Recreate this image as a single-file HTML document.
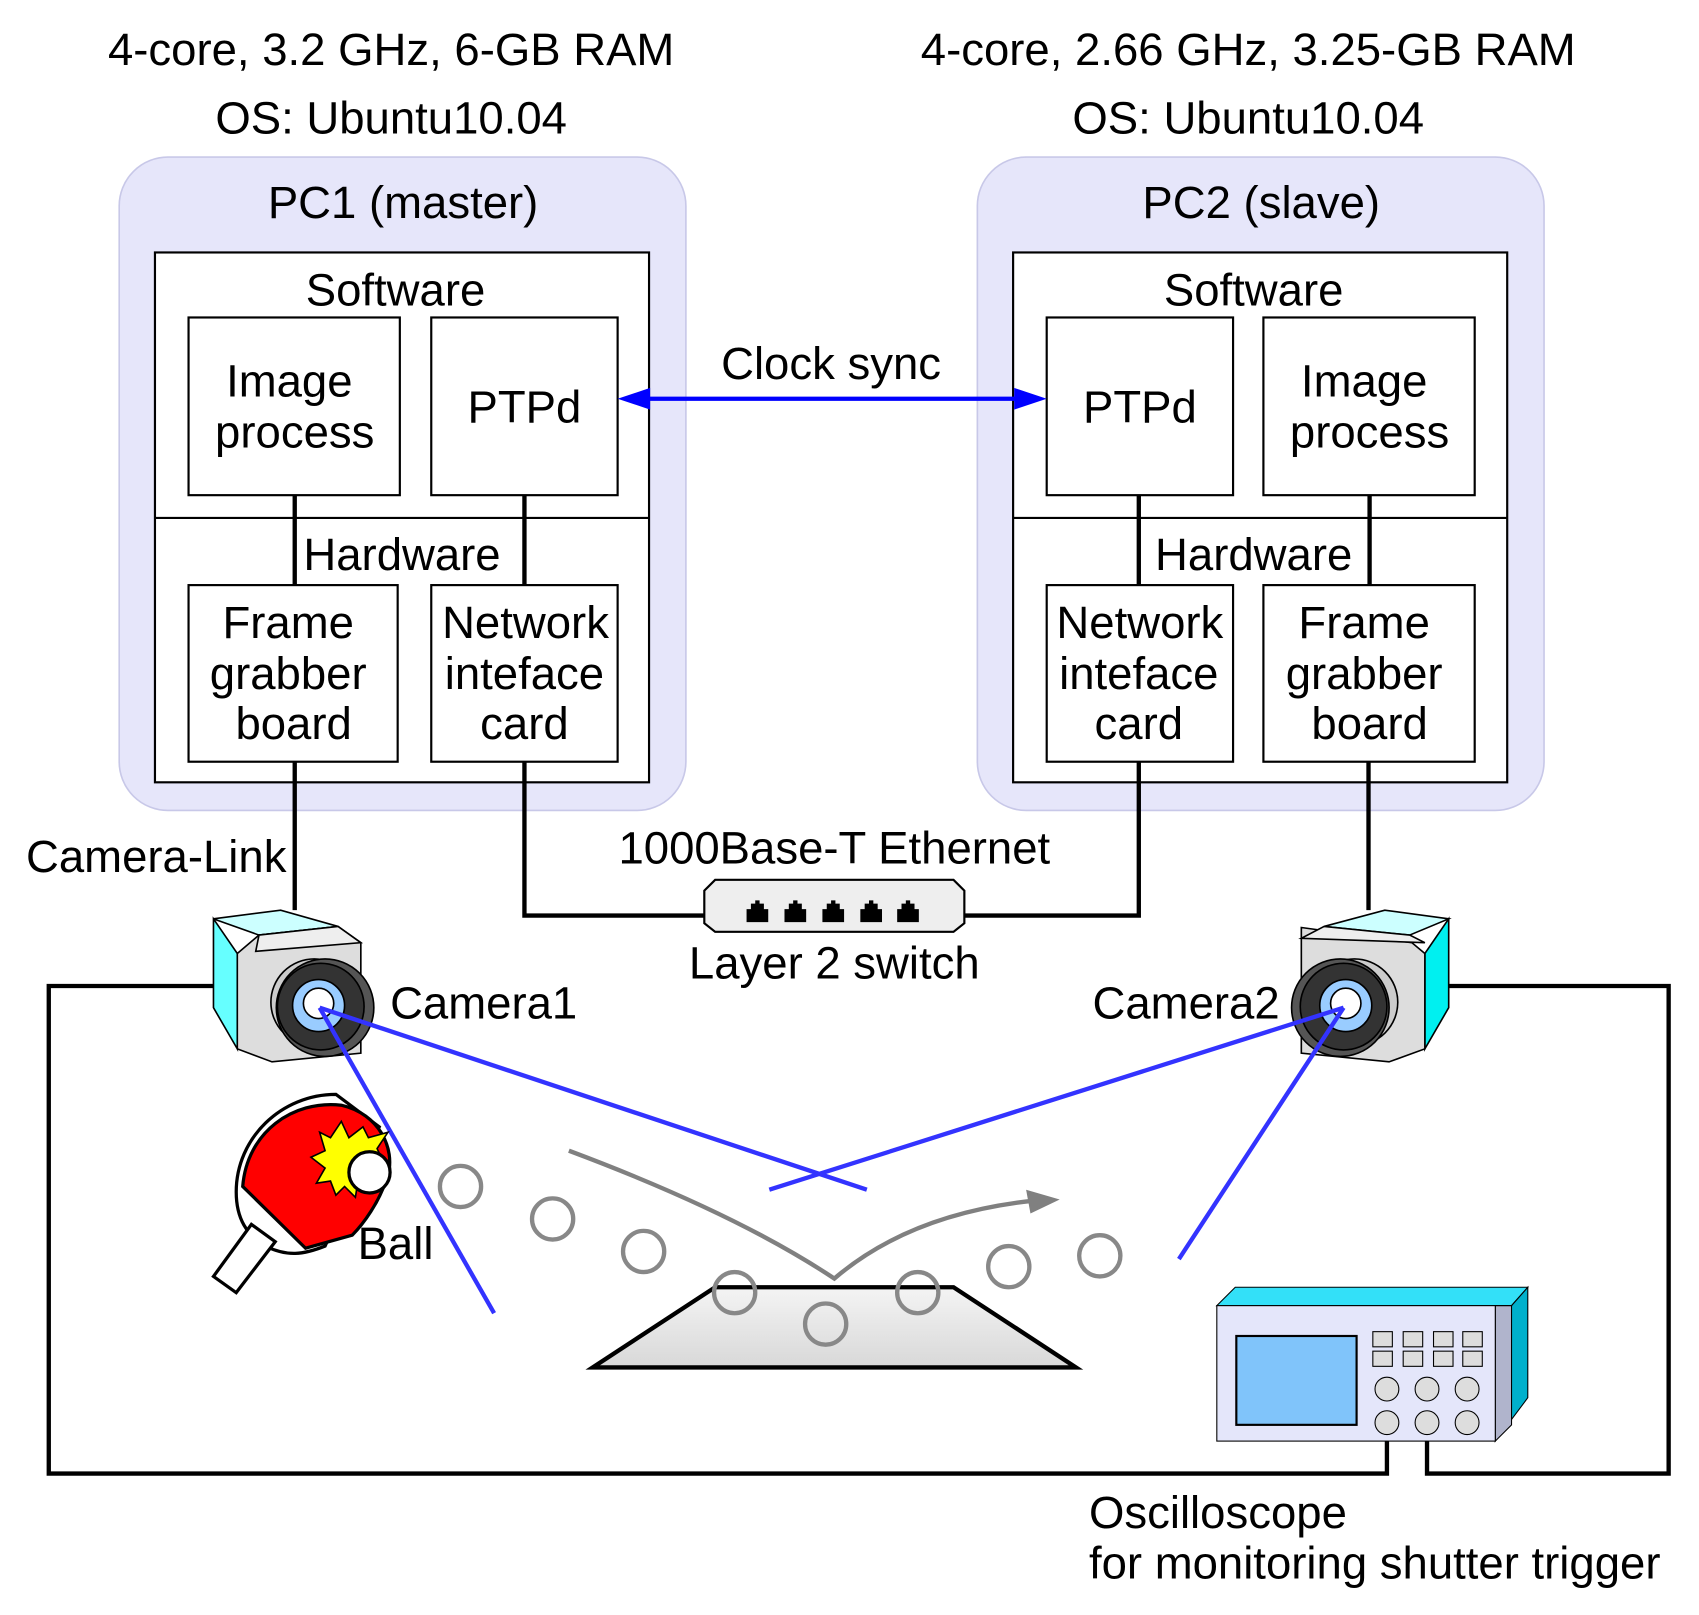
<!DOCTYPE html>
<html><head><meta charset="utf-8"><style>html,body{margin:0;padding:0;background:#fff}svg{display:block}text{font-family:"Liberation Sans",Arial,sans-serif;fill:#000}</style></head>
<body>
<svg width="1699" height="1615" viewBox="0 0 1568 1490.5" xmlns="http://www.w3.org/2000/svg">
<defs>
<linearGradient id="tg" x1="0" y1="0" x2="0" y2="1"><stop offset="0" stop-color="#f4f4f4"/><stop offset="1" stop-color="#d8d8d8"/></linearGradient>
</defs>
<g font-size="42" text-anchor="middle">
<text x="361" y="60">4-core, 3.2 GHz, 6-GB RAM</text>
<text x="361" y="123">OS: Ubuntu10.04</text>
<text x="1152" y="60">4-core, 2.66 GHz, 3.25-GB RAM</text>
<text x="1152" y="123">OS: Ubuntu10.04</text>
</g>
<rect x="110" y="145" width="523" height="603" rx="45" fill="#e6e6fa" stroke="#c8c8e8" stroke-width="1.5"/>
<rect x="902" y="145" width="523" height="603" rx="45" fill="#e6e6fa" stroke="#c8c8e8" stroke-width="1.5"/>
<g fill="#fff" stroke="#000" stroke-width="2">
<rect x="143" y="233" width="456" height="489"/>
<rect x="935" y="233" width="456" height="489"/>
<rect x="174" y="293" width="195" height="164"/>
<rect x="398" y="293" width="172" height="164"/>
<rect x="174" y="540" width="193" height="163"/>
<rect x="398" y="540" width="172" height="163"/>
<rect x="966" y="293" width="172" height="164"/>
<rect x="1166" y="293" width="195" height="164"/>
<rect x="966" y="540" width="172" height="163"/>
<rect x="1166" y="540" width="195" height="163"/>
</g>
<g stroke="#000" stroke-width="2"><line x1="143" y1="478" x2="599" y2="478"/><line x1="935" y1="478" x2="1391" y2="478"/></g>
<g fill="none" stroke="#000" stroke-width="4">
<line x1="272" y1="457" x2="272" y2="540"/><line x1="484" y1="457" x2="484" y2="540"/>
<line x1="1051" y1="457" x2="1051" y2="540"/><line x1="1264" y1="457" x2="1264" y2="540"/>
<line x1="272" y1="703" x2="272" y2="840"/>
<polyline points="484,703 484,845 652,845"/>
<polyline points="888,845 1051,845 1051,703"/>
<line x1="1263" y1="703" x2="1263" y2="840"/>
<polyline points="200,910 45,910 45,1360 1280,1360 1280,1315"/>
<polyline points="1335,910 1540,910 1540,1360 1317,1360 1317,1315"/>
</g>
<g font-size="42" text-anchor="middle">
<text x="372" y="201">PC1 (master)</text>
<text x="1164" y="201">PC2 (slave)</text>
<text x="365" y="282">Software</text>
<text x="1157" y="282">Software</text>
<text x="371" y="526">Hardware</text>
<text x="1157" y="526">Hardware</text>
<text x="267" y="366">Image</text><text x="272" y="413">process</text>
<text x="484" y="390">PTPd</text>
<text x="1052" y="390">PTPd</text>
<text x="1259" y="366">Image</text><text x="1264" y="413">process</text>
<text x="266" y="589">Frame</text><text x="266" y="636">grabber</text><text x="271" y="682">board</text>
<text x="485" y="589">Network</text><text x="484" y="636">inteface</text><text x="484" y="682">card</text>
<text x="1052" y="589">Network</text><text x="1051" y="636">inteface</text><text x="1051" y="682">card</text>
<text x="1259" y="589">Frame</text><text x="1259" y="636">grabber</text><text x="1264" y="682">board</text>
<text x="767" y="350">Clock sync</text>
<text x="770" y="797">1000Base-T Ethernet</text>
<text x="770" y="903">Layer 2 switch</text>
</g>
<g font-size="42">
<text x="24" y="805">Camera-Link</text>
<text x="360" y="940">Camera1</text>
<text x="1181" y="940" text-anchor="end">Camera2</text>
<text x="330" y="1162">Ball</text>
<text x="1005" y="1410">Oscilloscope</text>
<text x="1005" y="1457">for monitoring shutter trigger</text>
</g>
<line x1="590" y1="368" x2="946" y2="368" stroke="#0000ff" stroke-width="4"/>
<polygon points="570,368 600,358 600,378" fill="#0000ff"/>
<polygon points="966,368 936,358 936,378" fill="#0000ff"/>
<polygon points="660,812 880,812 890,822 890,852 880,860 660,860 650,852 650,822" fill="#eee" stroke="#000" stroke-width="2"/>
<g fill="#000">
<path d="M690,851 v-12 h4 v-5 h4 v-3 h4 v3 h4 v5 h4 v12z" transform="translate(-1,0)"/>
<path d="M690,851 v-12 h4 v-5 h4 v-3 h4 v3 h4 v5 h4 v12z" transform="translate(34,0)"/>
<path d="M690,851 v-12 h4 v-5 h4 v-3 h4 v3 h4 v5 h4 v12z" transform="translate(69,0)"/>
<path d="M690,851 v-12 h4 v-5 h4 v-3 h4 v3 h4 v5 h4 v12z" transform="translate(104,0)"/>
<path d="M690,851 v-12 h4 v-5 h4 v-3 h4 v3 h4 v5 h4 v12z" transform="translate(138,0)"/>
</g>
<g stroke="#000" stroke-width="1.5">
<polygon points="197,848 219,880 219,968 197,930" fill="#66ffff"/>
<polygon points="197,848 259,840 312,855 239,863" fill="#ccffff"/>
<polygon points="219,880 239,863 312,855 333,870 333,972 251,980 219,968" fill="#ddd"/>
<polygon points="239,863 312,855 333,870 236,878" fill="#eee"/>
<circle cx="290" cy="925" r="40" fill="#ccc"/>
<circle cx="300" cy="930" r="45" fill="#555"/>
<circle cx="296" cy="929" r="40" fill="#333"/>
<circle cx="294" cy="928" r="24" fill="#99ccff"/>
<circle cx="294" cy="926" r="14" fill="#fff"/>
</g>
<g stroke="#000" stroke-width="1.5">
<polygon points="1337,848 1315,880 1315,968 1337,930" fill="#00f0f0"/>
<polygon points="1337,848 1278,840 1222,855 1301,863" fill="#ccffff"/>
<polygon points="1303,870 1201,856 1201,972 1282,980 1315,968 1315,880" fill="#ddd"/>
<polygon points="1222,855 1301,863 1315,870 1201,866" fill="#eee"/>
<circle cx="1250" cy="925" r="40" fill="#ccc"/>
<circle cx="1237" cy="930" r="45" fill="#555"/>
<circle cx="1240" cy="929" r="40" fill="#333"/>
<circle cx="1242" cy="928" r="24" fill="#99ccff"/>
<circle cx="1242" cy="926" r="14" fill="#fff"/>
</g>
<polygon points="547,1262 660,1188 880,1188 993,1262" fill="url(#tg)" stroke="#000" stroke-width="4"/>
<path d="M525,1062 Q680,1120 770,1180 Q840,1120 955,1108" fill="none" stroke="#808080" stroke-width="4"/>
<polygon points="978,1107 947,1098 951,1120" fill="#808080"/>
<g fill="none" stroke="#888" stroke-width="4">
<circle cx="425" cy="1095" r="19"/><circle cx="510" cy="1125" r="19"/><circle cx="594" cy="1155" r="19"/>
<circle cx="678" cy="1193" r="19"/><circle cx="762" cy="1222" r="19"/><circle cx="847" cy="1193" r="19"/>
<circle cx="931" cy="1169" r="19"/><circle cx="1015" cy="1159" r="19"/>
</g>
<g stroke="#3333ff" stroke-width="4">
<line x1="295" y1="930" x2="800" y2="1098"/><line x1="295" y1="930" x2="456" y2="1212"/>
<line x1="1240" y1="930" x2="710" y2="1098"/><line x1="1240" y1="930" x2="1088" y2="1162"/>
</g>
<g stroke="#000" stroke-width="3">
<path d="M218,1100 C218,1050 260,1010 310,1010 L350,1040 L300,1150 C280,1158 265,1160 245,1150 C228,1140 218,1125 218,1100Z" fill="#fff"/>
<path d="M224,1095 C228,1045 270,1015 315,1020 C350,1028 365,1060 358,1085 C350,1110 335,1130 325,1140 L282,1152 Z" fill="#ff0000"/>
<polygon points="197,1178 232,1130 254,1146 218,1193" fill="#fff"/>
<polygon points="295,1045 305,1050 315,1035 322,1050 335,1040 340,1050 358,1045 348,1060 355,1075 340,1080 345,1095 330,1092 328,1105 318,1095 310,1103 305,1090 292,1092 300,1078 287,1068 300,1062" fill="#ffff00" stroke-width="1.5"/>
<circle cx="341" cy="1082" r="19" fill="#fff"/>
</g>
<g stroke="#000" stroke-width="1">
<polygon points="1123,1205 1140,1188 1410,1188 1395,1205" fill="#33e0f8"/>
<polygon points="1380,1205 1395,1205 1410,1188 1410,1290 1380,1330" fill="#00b0cc"/>
<polygon points="1380,1205 1395,1205 1395,1315 1380,1330" fill="#b0b4cc"/>
<rect x="1123" y="1205" width="257" height="125" fill="#e4e6fa"/>
<rect x="1141" y="1233" width="111" height="82" fill="#80c4fa" stroke-width="2"/>
<g fill="#ddd">
<rect x="1267" y="1229" width="18" height="14"/><rect x="1295" y="1229" width="18" height="14"/><rect x="1323" y="1229" width="18" height="14"/><rect x="1350" y="1229" width="18" height="14"/>
<rect x="1267" y="1247" width="18" height="14"/><rect x="1295" y="1247" width="18" height="14"/><rect x="1323" y="1247" width="18" height="14"/><rect x="1350" y="1247" width="18" height="14"/>
<circle cx="1280" cy="1282" r="11"/><circle cx="1317" cy="1282" r="11"/><circle cx="1354" cy="1282" r="11"/>
<circle cx="1280" cy="1313" r="11"/><circle cx="1317" cy="1313" r="11"/><circle cx="1354" cy="1313" r="11"/>
</g>
</g>
</svg>
</body></html>
